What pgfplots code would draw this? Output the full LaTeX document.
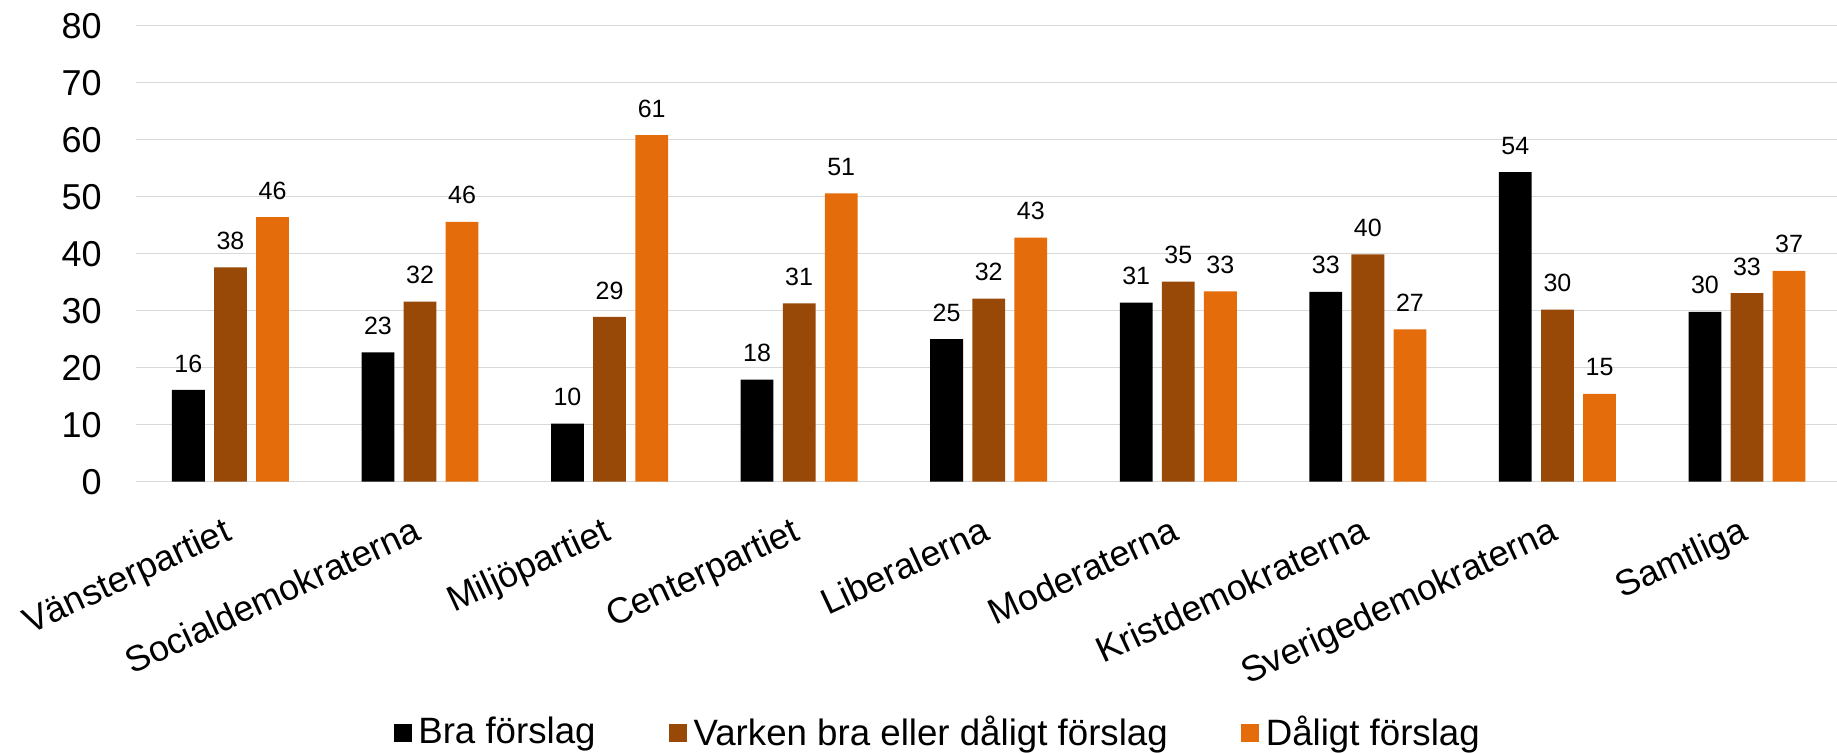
\documentclass[border=0pt]{standalone}
\usepackage{pgfplots}
\pgfplotsset{compat=1.18}
\usepackage{fontspec}
\setmainfont{Liberation Sans}
\definecolor{cBra}{HTML}{000000}
\definecolor{cVarken}{HTML}{984807}
\definecolor{cDalig}{HTML}{E46C0A}
\definecolor{cGrid}{HTML}{D9D9D9}
\begin{document}
\begin{tikzpicture}
\path[use as bounding box] (-40.7pt,-81.1pt) rectangle (510.4pt,144.5pt);
\begin{axis}[
  at={(0,0)}, anchor=south west,
  scale only axis,
  width=510.4pt, height=136.8pt,
  xmin=-0.5, xmax=8.475,
  ymin=0, ymax=80,
  ytick={0,10,...,80},
  xtick={0,1,2,3,4,5,6,7,8},
  xticklabels={Vänsterpartiet,Socialdemokraterna,Miljöpartiet,Centerpartiet,Liberalerna,Moderaterna,Kristdemokraterna,Sverigedemokraterna,Samtliga},
  ybar,
  bar width=0.173,
  ymajorgrids,
  major grid style={draw=cGrid, line width=0.4pt},
  axis line style={draw=none},
  tick style={draw=none},
  /pgf/number format/assume math mode=true,
  yticklabel style={font=\fontsize{10.8}{13}\selectfont, anchor=east, inner sep=0pt, xshift=-10pt},
  xticklabel style={font=\fontsize{10.8}{13}\selectfont, inner sep=0pt, xshift=-2.4pt, yshift=-5.7pt, rotate=25, anchor=north east},
  nodes near coords={\pgfmathprintnumber[fixed,precision=0]{\pgfplotspointmeta}},
  every node near coord/.append style={font=\fontsize{7.5}{9}\selectfont, anchor=south, inner sep=0pt, yshift=5.1pt, color=black},
  clip=false,
  legend columns=3,
  legend style={draw=none, fill=none, at={(0.4728,-0.551)}, anchor=center,
    font=\fontsize{11}{13}\selectfont,
    /tikz/every even column/.append style={column sep=20pt},
    inner sep=0pt},
  legend image code/.code={\fill[#1] (0pt,-2.7pt) rectangle (5.4pt,2.7pt);},
]
\addplot[fill=cBra, draw=none, bar shift=-0.222] coordinates {
(0,16.1) (1,22.7) (2,10.2) (3,17.9) (4,25.0) (5,31.4) (6,33.3) (7,54.3) (8,29.8)};
\addplot[fill=cVarken, draw=none, bar shift=0] coordinates {
(0,37.6) (1,31.6) (2,28.9) (3,31.3) (4,32.1) (5,35.1) (6,39.9) (7,30.2) (8,33.1)};
\addplot[fill=cDalig, draw=none, bar shift=0.222] coordinates {
(0,46.4) (1,45.6) (2,60.8) (3,50.6) (4,42.8) (5,33.4) (6,26.7) (7,15.4) (8,37.0)};
\legend{Bra förslag,Varken bra eller dåligt förslag,Dåligt förslag}
\end{axis}
\end{tikzpicture}
\end{document}
